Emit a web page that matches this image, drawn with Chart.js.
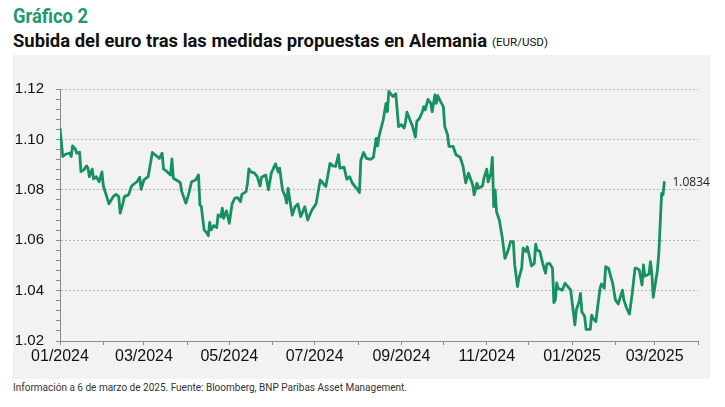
<!DOCTYPE html>
<html>
<head>
<meta charset="utf-8">
<script src="https://cdn.jsdelivr.net/npm/chart.js@4.4.1/dist/chart.umd.min.js"></script>
<style>
  html, body { margin: 0; padding: 0; background: #fff; }
  body { width: 725px; height: 407px; position: relative; overflow: hidden; }
  .fit { position: absolute; white-space: nowrap; transform-origin: 0 0; }
  .title { left: 13px; top: 4px; font: bold 21px Roboto, sans-serif; color: #1f9a6b; }
  .subtitle { left: 13px; top: 29px; font: bold 19px Roboto, sans-serif; color: #111; }
  .unit { left: 492px; top: 36px; font: 11px Roboto, sans-serif; color: #111; }
  .panel { position: absolute; left: 13px; top: 55px; width: 697px; height: 324px; background: #f2f2f2; }
  .footer { left: 13px; top: 381px; font: 11px Roboto, sans-serif; color: #333; }
</style>
</head>
<body>
<div class="fit title" data-w="75">Gráfico 2</div>
<div class="fit subtitle" data-w="474">Subida del euro tras las medidas propuestas en Alemania</div>
<div class="fit unit" data-w="56">(EUR/USD)</div>
<div class="panel"><canvas id="myChart" width="697" height="324"></canvas></div>
<div class="fit footer" data-w="394">Información a 6 de marzo de 2025. Fuente: Bloomberg, BNP Paribas Asset Management.</div>
<script>
// days since 1 Jan 2024
const days = [0,2,4,7,8,9,11,12,14,15,17,19,20,21,23,24,26,28,30,31,33,35,38,40,42,43,45,46,49,51,
  52,55,57,58,60,63,66,69,71,73,74,76,79,80,81,84,86,87,90,92,94,97,99,100,101,103,105,106,107,108,
  110,112,113,115,116,117,119,121,123,125,127,129,130,133,134,135,136,139,141,143,144,147,149,151,154,156,157,159,161,162,
  163,165,166,168,170,172,175,177,180,183,186,188,190,193,195,197,199,200,203,205,207,209,212,214,215,217,219,222,224,226,
  227,228,231,233,234,235,237,238,240,242,244,246,247,248,252,254,255,257,259,260,261,263,265,266,268,269,270,272,274,275,
  277,278,281,283,286,288,290,292,295,296,298,299,302,303,305,306,308,309,310,311,312,314,316,318,320,322,324,325,327,328,
  330,331,333,334,337,339,340,341,343,345,347,348,350,352,353,354,355,356,359,361,363,365,366,368,369,371,372,373,375,376,
  379,380,381,383,384,386,387,389,390,392,395,396,397,399,402,403,405,407,409,411,412,414,416,417,418,420,421,422,423,424,
  427,428,430,431,432];

const eurusd = [1.1045,1.0932,1.0941,1.0946,1.0932,1.0974,1.0961,1.0945,1.0949,1.0872,1.0879,1.0895,1.0886,1.0852,1.0882,1.0843,1.0852,1.0832,1.0871,1.0815,1.0780,1.0744,1.0773,1.0782,1.0773,1.0707,1.0747,1.0773,1.0780,1.0813,
  1.0819,1.0832,1.0850,1.0802,1.0839,1.0852,1.0948,1.0934,1.0925,1.0945,1.0882,1.0875,1.0859,1.0923,1.0846,1.0836,1.0828,1.0793,1.0747,1.0784,1.0832,1.0839,1.0859,1.0740,1.0733,1.0641,1.0628,1.0618,1.0671,1.0641,
  1.0658,1.0650,1.0700,1.0693,1.0727,1.0687,1.0717,1.0667,1.0744,1.0767,1.0769,1.0753,1.0782,1.0793,1.0826,1.0883,1.0872,1.0866,1.0852,1.0815,1.0850,1.0859,1.0800,1.0866,1.0903,1.0870,1.0886,1.0800,1.0773,1.0747,
  1.0806,1.0733,1.0700,1.0733,1.0744,1.0693,1.0733,1.0680,1.0720,1.0744,1.0839,1.0826,1.0813,1.0905,1.0895,1.0893,1.0939,1.0886,1.0890,1.0842,1.0852,1.0826,1.0806,1.0789,1.0916,1.0948,1.0925,1.0921,1.0929,1.1004,
  1.0974,1.1012,1.1077,1.1143,1.1110,1.1190,1.1177,1.1170,1.1181,1.1051,1.1058,1.1045,1.1071,1.1108,1.1051,1.1009,1.1071,1.1084,1.1110,1.1130,1.1117,1.1159,1.1143,1.1110,1.1177,1.1143,1.1174,1.1150,1.1130,1.1051,
  1.1018,1.0972,1.0972,1.0939,1.0929,1.0895,1.0828,1.0866,1.0819,1.0780,1.0826,1.0806,1.0815,1.0846,1.0882,1.0832,1.0866,1.0929,1.0733,1.0800,1.0713,1.0680,1.0614,1.0528,1.0555,1.0594,1.0594,1.0502,1.0416,1.0449,
  1.0489,1.0568,1.0555,1.0574,1.0498,1.0508,1.0584,1.0561,1.0555,1.0508,1.0469,1.0506,1.0508,1.0489,1.0352,1.0363,1.0431,1.0409,1.0402,1.0429,1.0416,1.0402,1.0356,1.0264,1.0323,1.0356,1.0389,1.0316,1.0297,1.0246,
  1.0246,1.0303,1.0290,1.0277,1.0323,1.0409,1.0426,1.0409,1.0495,1.0489,1.0429,1.0396,1.0363,1.0347,1.0402,1.0363,1.0330,1.0307,1.0389,1.0489,1.0489,1.0482,1.0422,1.0502,1.0458,1.0462,1.0466,1.0515,1.0469,1.0373,
  1.0482,1.0548,1.0786,1.0780,1.0834];

// first day of each month, Jan 2024 .. Apr 2025
const monthStarts = [0,31,60,91,121,152,182,213,244,274,305,335,366,397,425,456];
const tickLabels = ["01/2024","","03/2024","","05/2024","","07/2024","","09/2024","","11/2024","","01/2025","","03/2025",""];

// squeeze the heading texts to the condensed widths of the original
document.querySelectorAll(".fit").forEach(el => {
    const w = el.getBoundingClientRect().width;
    el.style.transform = "scaleX(" + (Number(el.dataset.w) / w) + ")";
});

const lastLabel = {
    id: "lastLabel",
    afterDatasetsDraw(chart) {
        const meta = chart.getDatasetMeta(0);
        const pt = meta.data[meta.data.length - 1];
        const ctx = chart.ctx;
        ctx.save();
        ctx.font = "12px 'Open Sans', sans-serif";
        ctx.fillStyle = "#222";
        ctx.textAlign = "left";
        ctx.textBaseline = "middle";
        ctx.fillText(eurusd[eurusd.length - 1].toFixed(4), pt.x + 8, pt.y + 1);
        ctx.restore();
    }
};

const ctx = document.getElementById("myChart").getContext("2d");
new Chart(ctx, {
    type: "line",
    data: {
        datasets: [{
            data: days.map((d, i) => ({x: d, y: eurusd[i]})),
            borderColor: "#17915f",
            borderWidth: 2.8,
            pointRadius: 0,
            tension: 0,
            borderJoinStyle: "round"
        }]
    },
    options: {
        responsive: false,
        animation: false,
        layout: {padding: {top: 34, right: 12, left: 0, bottom: 0}},
        plugins: {legend: {display: false}, tooltip: {enabled: false}},
        scales: {
            x: {
                type: "linear",
                min: 0,
                max: 456,
                afterBuildTicks: (scale) => {
                    scale.ticks = monthStarts.map(v => ({value: v}));
                },
                afterFit: (scale) => { scale.height = 38; },
                ticks: {
                    autoSkip: false,
                    maxRotation: 0,
                    padding: 2,
                    color: "#111",
                    font: {family: "'Liberation Sans', Arial, sans-serif", size: 16},
                    callback: (value, index) => tickLabels[index]
                },
                grid: {drawOnChartArea: false, tickLength: 4, tickColor: "#8a8a8a"},
                border: {color: "#8a8a8a", width: 1}
            },
            y: {
                min: 1.02,
                max: 1.12,
                afterBuildTicks: (scale) => {
                    const t = [];
                    for (let i = 0; i <= 25; i++) t.push({value: Math.round((1.02 + i * 0.004) * 1000) / 1000});
                    scale.ticks = t;
                },
                afterFit: (scale) => { scale.width = 47; },
                ticks: {
                    autoSkip: false,
                    padding: 12,
                    color: "#111",
                    font: {family: "'Liberation Sans', Arial, sans-serif", size: 15},
                    callback: (value, index) => index % 5 === 0 ? value.toFixed(2) : ""
                },
                grid: {
                    tickLength: 4,
                    tickColor: "#8a8a8a",
                    color: (c) => (c.index % 5 === 0 && c.index > 0) ? "#b5b5b5" : "rgba(0,0,0,0)",
                    lineWidth: 1
                },
                border: {color: "#8a8a8a", width: 1, dash: [2, 2]}
            }
        }
    },
    plugins: [lastLabel]
});
</script>
</body>
</html>
